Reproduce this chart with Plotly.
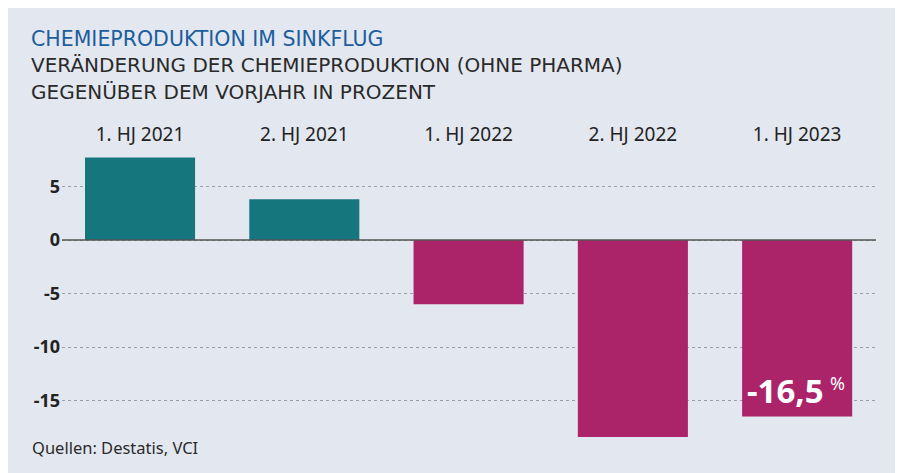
import plotly.graph_objects as go

categories = ["1. HJ 2021", "2. HJ 2021", "1. HJ 2022", "2. HJ 2022", "1. HJ 2023"]
values = [7.7, 3.8, -6.0, -18.4, -16.5]
y_ticks = [5, 0, -5, -10, -15]
y_tick_labels = ["5", "0", "-5", "-10", "-15"]

BG = "#e3e8f0"
TEAL = "#16767e"
MAGENTA = "#ab2368"
FONT = "Noto Sans"
HFONT = "DejaVu Sans"

colors = [TEAL if v >= 0 else MAGENTA for v in values]

fig = go.Figure()
fig.add_trace(go.Bar(
    x=list(range(len(categories))), y=values,
    marker=dict(color=colors, line=dict(width=0)),
    width=0.67, hoverinfo="skip",
))

# plot area geometry helpers (pixels, figure coordinates)
L, R, T, B = 54, 868, 142, 432
W, H = 903, 473

def px(xp):
    return (xp - L) / (R - L)

def py(yp):
    return (B - yp) / (B - T)

fig.update_layout(
    width=W, height=H,
    margin=dict(l=L, r=W - R, t=T, b=H - B, pad=0),
    paper_bgcolor=BG, plot_bgcolor=BG,
    showlegend=False,
    font=dict(family=FONT, color="#222"),
    xaxis=dict(
        range=[-0.475, 4.48], side="top",
        tickmode="array", tickvals=list(range(len(categories))), ticktext=categories,
        tickfont=dict(size=19, color="#222"),
        showgrid=False, zeroline=False, showline=False, ticks="",
        ticklabelstandoff=4,
    ),
    yaxis=dict(
        range=[-18.69, 8.41],
        tickmode="array", tickvals=y_ticks, ticktext=[f"<b>{t}</b>" for t in y_tick_labels],
        tickfont=dict(size=18, color="#222"),
        showgrid=True, gridcolor="#9a9ea6", gridwidth=1, griddash="dot",
        zeroline=False, showline=False, ticks="",
        ticklabelstandoff=1,
    ),
    bargap=0.33,
)

# zero line above bars
fig.add_shape(type="line", xref="paper", yref="y", x0=0, x1=1, y0=0, y1=0,
              line=dict(color="#555", width=1.5), layer="above")

# titles
fig.add_annotation(xref="paper", yref="paper", x=px(21), y=py(30.5), xanchor="left", yanchor="middle",
                   text="CHEMIEPRODUKTION IM SINKFLUG", showarrow=False,
                   font=dict(size=20.5, color="#1c5d9e", family=HFONT))
fig.add_annotation(xref="paper", yref="paper", x=px(21), y=py(57), xanchor="left", yanchor="middle",
                   text="VERÄNDERUNG DER CHEMIEPRODUKTION (OHNE PHARMA)", showarrow=False,
                   font=dict(size=20, color="#2a2a2a", family=HFONT))
fig.add_annotation(xref="paper", yref="paper", x=px(21), y=py(83.5), xanchor="left", yanchor="middle",
                   text="GEGENÜBER DEM VORJAHR IN PROZENT", showarrow=False,
                   font=dict(size=20, color="#2a2a2a", family=HFONT))
fig.add_annotation(xref="paper", yref="paper", x=px(22), y=py(439), xanchor="left", yanchor="middle",
                   text="Quellen: Destatis, VCI", showarrow=False,
                   font=dict(size=16.5, color="#2a2a2a", family=FONT))

# value label in last bar
fig.add_annotation(xref="x", yref="y", x=4, y=-14.07, xshift=-11.5, xanchor="center", yanchor="middle",
                   text="<b>-16,5</b>", showarrow=False,
                   font=dict(size=33, color="white", family=FONT))
fig.add_annotation(xref="x", yref="y", x=4, y=-13.32, xshift=40.5, xanchor="center", yanchor="middle",
                   text="%", showarrow=False,
                   font=dict(size=18, color="white", family=FONT))

fig.write_html("out.html", config={"displayModeBar": False})
